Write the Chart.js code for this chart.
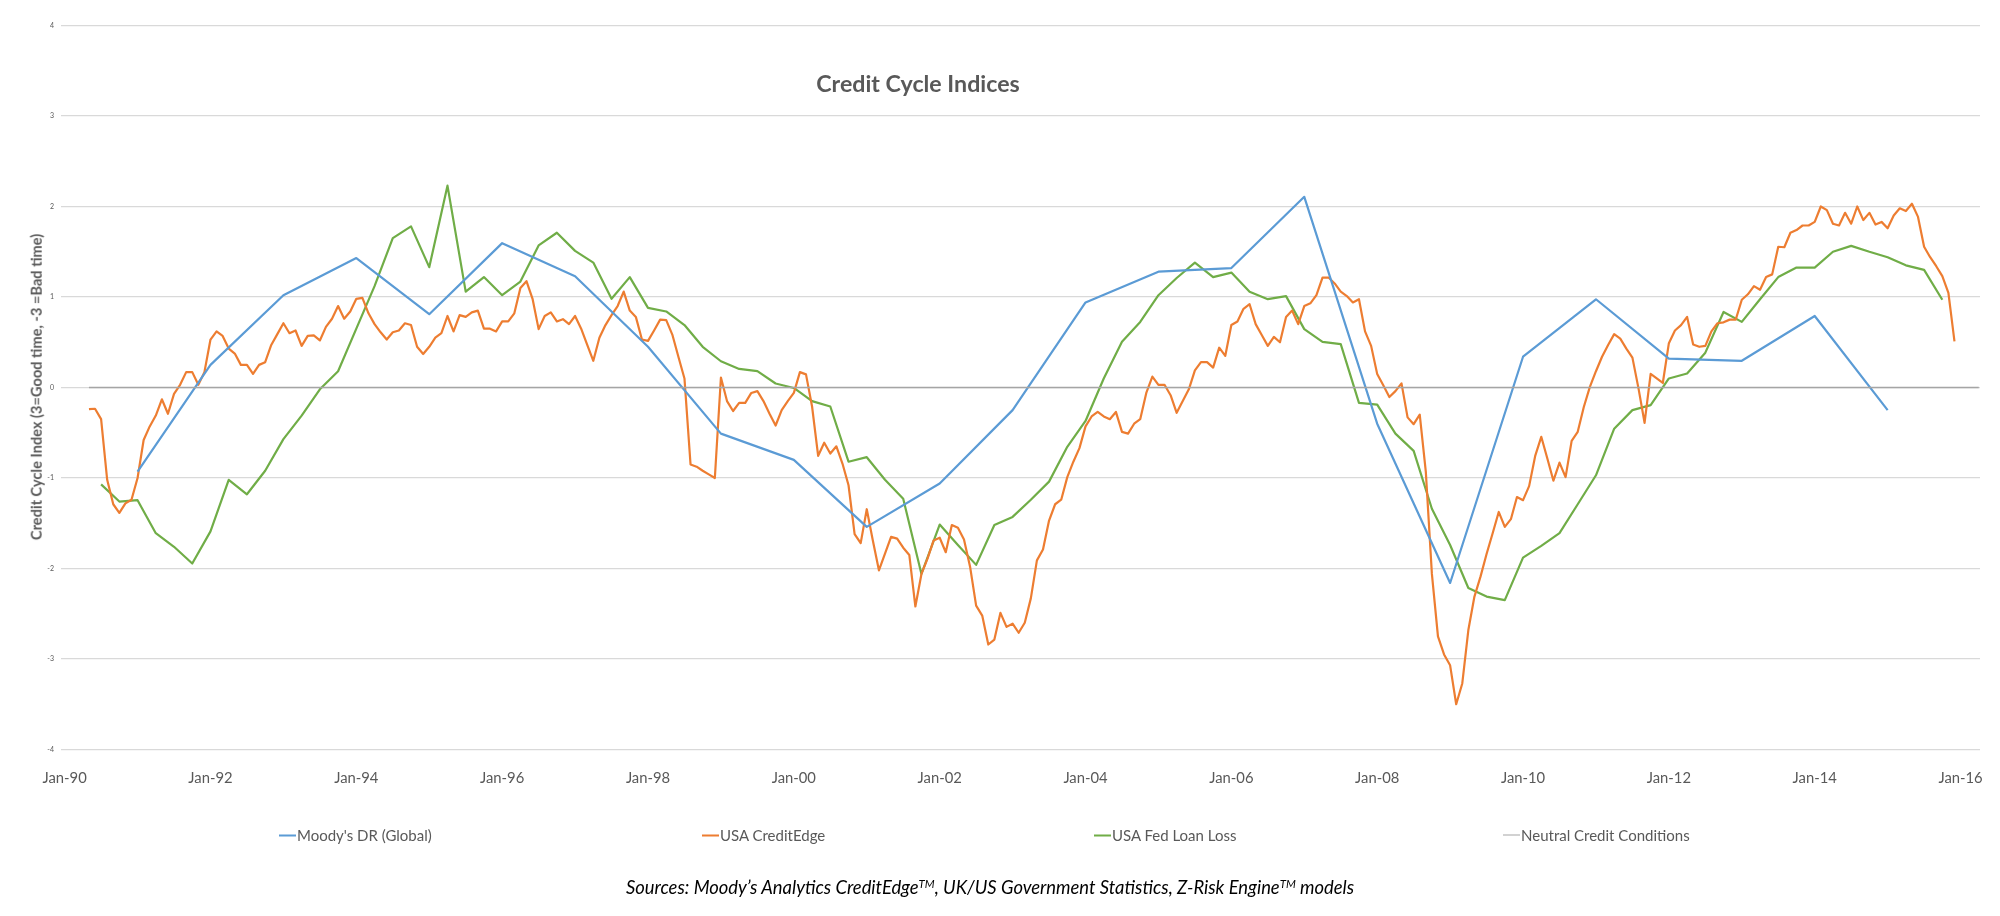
<!DOCTYPE html>
<html>
<head>
<meta charset="utf-8">
<title>Credit Cycle Indices</title>
<script src="https://cdn.jsdelivr.net/npm/chart.js@4.4.1/dist/chart.umd.min.js"></script>
<style>
  html, body { margin: 0; padding: 0; background: #fff; width: 2000px; height: 916px; overflow: hidden; }
  #wrap { position: relative; width: 2000px; height: 916px; }
  #chart { position: absolute; left: 0; top: 0; }
  .txt { position: absolute; white-space: nowrap; font-family: Lato, "Open Sans", sans-serif; color: #595959; line-height: 1; }
  #title { left: 918px; top: 84px; transform: translate(-50%, -50%); font-weight: bold; font-size: 23.2px; }
  #ytitle { left: 37px; top: 387px; transform: translate(-50%, -50%) rotate(-90deg); font-weight: bold; font-size: 14.6px; }
  #sources { left: 990px; top: 887px; transform: translate(-50%, -50%); font-style: italic; font-size: 18.4px; color: #000; }
  #sources sup { font-size: 0.62em; vertical-align: 0.55em; }
  .leg { position: absolute; top: 835px; transform: translateY(-50%); display: flex; align-items: center; }
  .leg i { display: inline-block; width: 17px; margin-right: 1px; }
</style>
</head>
<body>
<div id="wrap">
  <canvas id="chart" width="2000" height="916"></canvas>
  <div id="title" class="txt">Credit Cycle Indices</div>
  <div id="ytitle" class="txt">Credit Cycle Index (3=Good time, -3 =Bad time)</div>
  <div id="legend"></div>
  <div id="sources" class="txt">Sources: Moody’s Analytics CreditEdge<sup>TM</sup>, UK/US Government Statistics, Z-Risk Engine<sup>TM</sup> models</div>
</div>
<script>
// series names and colours
const seriesNames = ["Moody's DR (Global)", 'USA CreditEdge', 'USA Fed Loan Loss', 'Neutral Credit Conditions'];
const seriesColors = ['#5B9BD5', '#ED7D31', '#70AD47', '#A5A5A5'];

// x tick labels, one every two years from Jan-90
const xTickLabels = ['Jan-90', 'Jan-92', 'Jan-94', 'Jan-96', 'Jan-98', 'Jan-00', 'Jan-02', 'Jan-04',
  'Jan-06', 'Jan-08', 'Jan-10', 'Jan-12', 'Jan-14', 'Jan-16'];

// Moody's DR (Global): yearly, Jan-91 .. Jan-15
const moodysStart = [1991, 1];
const moodysDR = [-0.93, 0.25, 1.02, 1.43, 0.81, 1.595, 1.23, 0.45, -0.51, -0.80, -1.54, -1.06, -0.25,
  0.94, 1.28, 1.32, 2.107, -0.40, -2.16, 0.34, 0.975, 0.32, 0.295, 0.79, -0.25];

// USA CreditEdge: monthly, May-90 .. Dec-15
const creditEdgeStart = [1990, 5];
const creditEdge = [
  -0.24, -0.235, -0.35, -1.02, -1.29, -1.385, -1.28, -1.24,
  -1.0, -0.58, -0.43, -0.31, -0.13, -0.29, -0.07, 0.03, 0.17, 0.17, 0.03, 0.17,
  0.53, 0.62, 0.57, 0.43, 0.375, 0.25, 0.25, 0.15, 0.25, 0.28, 0.47, 0.59,
  0.71, 0.60, 0.63, 0.46, 0.57, 0.575, 0.52, 0.67, 0.76, 0.90, 0.76, 0.84,
  0.98, 0.99, 0.82, 0.70, 0.61, 0.53, 0.61, 0.63, 0.71, 0.69, 0.45, 0.37,
  0.45, 0.55, 0.60, 0.79, 0.62, 0.80, 0.78, 0.83, 0.85, 0.65, 0.65, 0.62,
  0.73, 0.73, 0.82, 1.10, 1.175, 0.98, 0.645, 0.79, 0.83, 0.73, 0.755, 0.70,
  0.79, 0.65, 0.47, 0.295, 0.55, 0.69, 0.80, 0.90, 1.06, 0.85, 0.78, 0.53,
  0.515, 0.63, 0.75, 0.745, 0.585, 0.34, 0.10, -0.85, -0.875, -0.92, -0.96, -1.0,
  0.11, -0.15, -0.26, -0.17, -0.17, -0.06, -0.04, -0.15, -0.29, -0.42, -0.25, -0.15,
  -0.06, 0.17, 0.145, -0.21, -0.755, -0.61, -0.73, -0.65, -0.84, -1.08, -1.62, -1.72,
  -1.345, -1.69, -2.02, -1.835, -1.65, -1.67, -1.77, -1.85, -2.42, -2.06, -1.89, -1.69,
  -1.66, -1.82, -1.52, -1.55, -1.68, -1.98, -2.41, -2.52, -2.84, -2.785, -2.49, -2.645,
  -2.61, -2.71, -2.6, -2.33, -1.91, -1.79, -1.47, -1.29, -1.24, -0.99, -0.82, -0.67,
  -0.43, -0.32, -0.27, -0.32, -0.35, -0.27, -0.49, -0.51, -0.40, -0.35, -0.06, 0.12,
  0.03, 0.03, -0.085, -0.28, -0.15, -0.02, 0.19, 0.28, 0.28, 0.22, 0.44, 0.35,
  0.69, 0.73, 0.87, 0.92, 0.70, 0.58, 0.46, 0.56, 0.50, 0.78, 0.85, 0.70,
  0.90, 0.93, 1.02, 1.215, 1.215, 1.15, 1.06, 1.01, 0.94, 0.975, 0.62, 0.46,
  0.15, 0.025, -0.105, -0.04, 0.045, -0.33, -0.405, -0.30, -0.93, -2.06, -2.75, -2.95,
  -3.07, -3.50, -3.27, -2.68, -2.31, -2.09, -1.84, -1.61, -1.375, -1.54, -1.455, -1.21,
  -1.245, -1.09, -0.756, -0.545, -0.785, -1.03, -0.83, -0.99, -0.59, -0.49, -0.215, 0.007,
  0.18, 0.34, 0.47, 0.59, 0.54, 0.43, 0.33, -0.01, -0.39, 0.15, 0.10, 0.05,
  0.49, 0.63, 0.69, 0.78, 0.475, 0.45, 0.46, 0.62, 0.71, 0.72, 0.75, 0.75,
  0.97, 1.03, 1.12, 1.08, 1.22, 1.25, 1.555, 1.55, 1.71, 1.74, 1.79, 1.79,
  1.83, 2.00, 1.96, 1.81, 1.79, 1.93, 1.81, 2.00, 1.85, 1.93, 1.80, 1.83,
  1.76, 1.90, 1.98, 1.95, 2.03, 1.885, 1.555, 1.44, 1.34, 1.23, 1.046, 0.51
];

// USA Fed Loan Loss: quarterly, Jul-90 .. Oct-15
const fedLoanStart = [1990, 7];
const fedLoanLoss = [
  -1.07, -1.26, -1.245, -1.61, -1.76, -1.945, -1.59, -1.02, -1.18, -0.92, -0.57, -0.31,
  -0.02, 0.18, 0.65, 1.12, 1.65, 1.78, 1.33, 2.23, 1.06, 1.22, 1.02, 1.17,
  1.57, 1.71, 1.51, 1.38, 0.98, 1.22, 0.88, 0.84, 0.69, 0.45, 0.29, 0.205,
  0.18, 0.044, -0.005, -0.15, -0.21, -0.82, -0.77, -1.02, -1.23, -2.06, -1.515, -1.74,
  -1.96, -1.52, -1.43, -1.24, -1.04, -0.655, -0.37, 0.10, 0.505, 0.725, 1.02, 1.21,
  1.38, 1.22, 1.27, 1.057, 0.976, 1.01, 0.645, 0.505, 0.48, -0.17, -0.19, -0.51,
  -0.70, -1.34, -1.74, -2.215, -2.31, -2.35, -1.88, -1.75, -1.61, -1.29, -0.97, -0.455,
  -0.25, -0.195, 0.10, 0.155, 0.385, 0.835, 0.725, 0.975, 1.22, 1.325, 1.325, 1.50,
  1.565, 1.50, 1.44, 1.35, 1.30, 0.97
];

// Neutral credit conditions level, drawn from the first CreditEdge month to the axis end
const neutralLevel = 0;
const axisEnd = [2016, 4];

// months since Jan-1990
function monthIndex(ym) { return (ym[0] - 1990) * 12 + (ym[1] - 1); }
function toPoints(start, step, values) {
  const m0 = monthIndex(start);
  return values.map((v, i) => ({ x: m0 + i * step, y: v }));
}

const neutralPoints = [
  { x: monthIndex(creditEdgeStart), y: neutralLevel },
  { x: monthIndex(axisEnd), y: neutralLevel }
];

function lineSet(i, data, width) {
  return {
    label: seriesNames[i], data: data, borderColor: seriesColors[i], backgroundColor: seriesColors[i],
    borderWidth: width, pointRadius: 0, tension: 0, fill: false, borderJoinStyle: 'round'
  };
}

const chart = new Chart(document.getElementById('chart'), {
  type: 'line',
  data: {
    datasets: [
      lineSet(3, neutralPoints, 1.6),
      lineSet(0, toPoints(moodysStart, 12, moodysDR), 2.2),
      lineSet(1, toPoints(creditEdgeStart, 1, creditEdge), 2.2),
      lineSet(2, toPoints(fedLoanStart, 3, fedLoanLoss), 2.2)
    ]
  },
  options: {
    responsive: false,
    animation: false,
    devicePixelRatio: 1,
    layout: { padding: { left: 0, right: 20, top: 25.5, bottom: 0 } },
    plugins: { legend: { display: false }, title: { display: false }, tooltip: { enabled: false } },
    scales: {
      x: {
        type: 'linear', min: -0.6, max: 315.2,
        grid: { display: false }, border: { display: false },
        afterBuildTicks: s => { s.ticks = xTickLabels.map((t, i) => ({ value: i * 24 })); },
        ticks: {
          callback: (v, i) => xTickLabels[i],
          font: { family: 'Lato', size: 14.8 }, color: '#595959',
          padding: 12, maxRotation: 0, autoSkip: false
        },
        afterFit: s => { s.height = 916 - 749.5; }
      },
      y: {
        min: -4, max: 4,
        ticks: { stepSize: 1, font: { family: 'Lato', size: 7 }, color: '#595959', padding: 7 },
        grid: { color: '#D9D9D9', lineWidth: 1.25, drawTicks: false },
        border: { display: false },
        afterFit: s => { s.width = 61; }
      }
    }
  }
});

// legend built from the series names and colours
const legendLeft = [279, 702, 1094, 1503];
const legendOrder = [0, 1, 2, 3];
const legendEl = document.getElementById('legend');
legendOrder.forEach((si, k) => {
  const d = document.createElement('div');
  d.className = 'leg txt';
  d.style.left = legendLeft[k] + 'px';
  d.style.fontSize = '15px';
  const sw = document.createElement('i');
  sw.style.borderTop = (si === 3 ? 1.6 : 2.2) + 'px solid ' + seriesColors[si];
  d.appendChild(sw);
  d.appendChild(document.createTextNode(seriesNames[si]));
  legendEl.appendChild(d);
});
</script>
</body>
</html>
